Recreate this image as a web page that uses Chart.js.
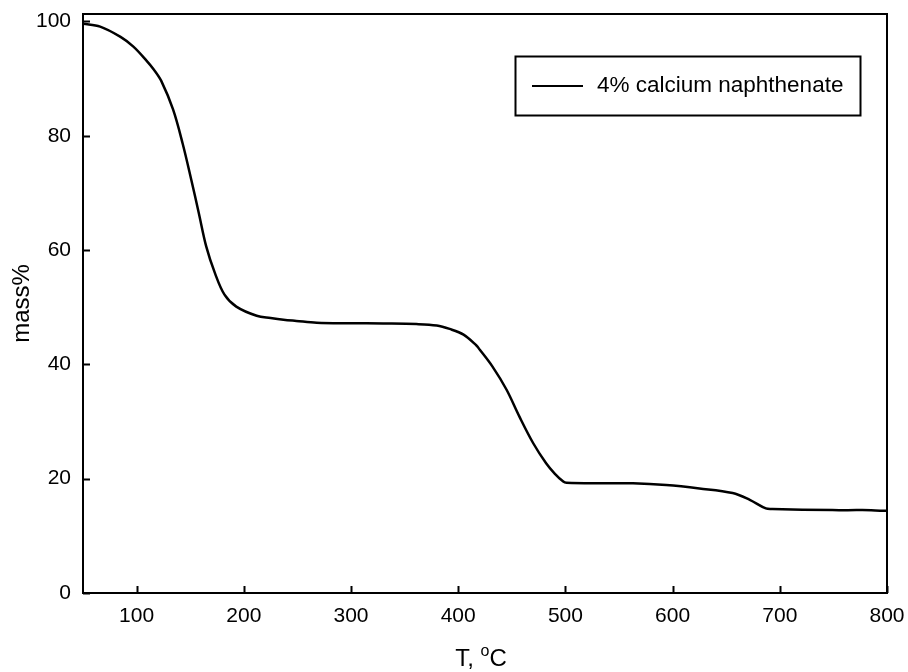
<!DOCTYPE html>
<html>
<head>
<meta charset="utf-8">
<script src="https://cdn.jsdelivr.net/npm/chart.js@4"></script>
<style>
  html, body { margin: 0; padding: 0; background: #fff; }
  #wrap { width: 908px; height: 672px; }
</style>
</head>
<body>
<div id="wrap"><canvas id="tga"></canvas></div>
<script>
// TGA curve
const temps = [50, 66, 85, 97, 109, 116, 123, 134, 143, 151, 158, 165, 173, 182, 193, 212, 225, 237, 249, 268,
  299, 330, 361, 380, 392, 405, 417, 420, 432, 445, 457, 470, 482, 490, 498, 501, 532, 563, 594, 625,
  656, 672, 687, 693, 749, 777, 797, 800];
const mass = [99.6, 99.1, 97.3, 95.6, 93.2, 91.6, 89.6, 84.6, 78.6, 72.3, 66.5, 60.6, 56.0, 52.2, 50.1, 48.5, 48.1, 47.8, 47.6, 47.3,
  47.2, 47.15, 47.05, 46.8, 46.2, 45.2, 43.3, 42.6, 39.6, 35.6, 30.9, 26.2, 22.7, 20.9, 19.5, 19.3, 19.2, 19.2, 18.9, 18.3,
  17.5, 16.3, 14.8, 14.7, 14.5, 14.5, 14.4, 14.4];
const xTicks = [100, 200, 300, 400, 500, 600, 700, 800];
const yTicks = [0, 20, 40, 60, 80, 100];
const seriesName = "4% calcium naphthenate";

const FONT = "'Liberation Sans', Arial, sans-serif";

// frame, inner ticks, legend box and x title
const framePlugin = {
    id: 'frame',
    afterDraw(chart) {
        const { ctx, chartArea: a, scales } = chart;
        ctx.save();
        ctx.strokeStyle = '#000';
        ctx.lineWidth = 2;
        ctx.strokeRect(a.left, a.top, a.right - a.left, a.bottom - a.top);

        ctx.beginPath();
        xTicks.forEach(v => {
            const px = Math.round(scales.x.getPixelForValue(v)) + 0.5;
            ctx.moveTo(px, a.bottom);
            ctx.lineTo(px, a.bottom - 7);
        });
        yTicks.forEach(v => {
            const py = Math.round(scales.y.getPixelForValue(v)) + 0.5;
            ctx.moveTo(a.left, py);
            ctx.lineTo(a.left + 7, py);
        });
        ctx.stroke();

        // legend
        ctx.lineWidth = 2;
        ctx.strokeRect(515.5, 56.5, 345, 59);
        ctx.beginPath();
        ctx.moveTo(532, 86);
        ctx.lineTo(583, 86);
        ctx.stroke();
        ctx.fillStyle = '#000';
        ctx.font = `22.5px ${FONT}`;
        ctx.textBaseline = 'middle';
        ctx.textAlign = 'left';
        ctx.fillText(chart.data.datasets[0].label, 597, 86);

        // x title with superscript o
        const big = `24px ${FONT}`, small = `16px ${FONT}`;
        ctx.font = big;
        const w1 = ctx.measureText('T, ').width;
        const w3 = ctx.measureText('C').width;
        ctx.font = small;
        const w2 = ctx.measureText('o').width;
        let x = 481 - (w1 + w2 + w3) / 2;
        const base = 666;
        ctx.textBaseline = 'alphabetic';
        ctx.font = big;
        ctx.fillText('T, ', x, base);
        x += w1;
        ctx.font = small;
        ctx.fillText('o', x, base - 10);
        x += w2;
        ctx.font = big;
        ctx.fillText('C', x, base);
        ctx.restore();
    }
};

new Chart(document.getElementById('tga'), {
    type: 'line',
    data: {
        datasets: [{
            label: seriesName,
            data: temps.map((t, i) => ({ x: t, y: mass[i] })),
            borderColor: '#000',
            borderWidth: 2.5,
            pointRadius: 0,
            fill: false,
            tension: 0.35
        }]
    },
    options: {
        responsive: true,
        maintainAspectRatio: false,
        animation: false,
        layout: { padding: { top: 14, right: 21, left: 0, bottom: 0 } },
        plugins: { legend: { display: false }, tooltip: { enabled: false } },
        scales: {
            x: {
                type: 'linear',
                min: 50,
                max: 800,
                afterBuildTicks: s => { s.ticks = xTicks.map(v => ({ value: v })); },
                afterFit: s => { s.height = 79; s.paddingLeft = 0; s.paddingRight = 0; },
                grid: { display: false, drawTicks: false },
                border: { display: false },
                ticks: { color: '#000', padding: 11, font: { size: 21, family: FONT }, maxRotation: 0 }
            },
            y: {
                min: 0,
                max: 101.3,
                afterBuildTicks: s => { s.ticks = yTicks.map(v => ({ value: v })); },
                afterFit: s => { s.width = 83; s.paddingTop = 0; s.paddingBottom = 0; },
                grid: { display: false, drawTicks: false },
                border: { display: false },
                ticks: { color: '#000', padding: 12, font: { size: 21, family: FONT } },
                title: { display: true, text: 'mass%', color: '#000', padding: { top: 8, bottom: 0 }, font: { size: 24, family: FONT } }
            }
        }
    },
    plugins: [framePlugin]
});
</script>
</body>
</html>
